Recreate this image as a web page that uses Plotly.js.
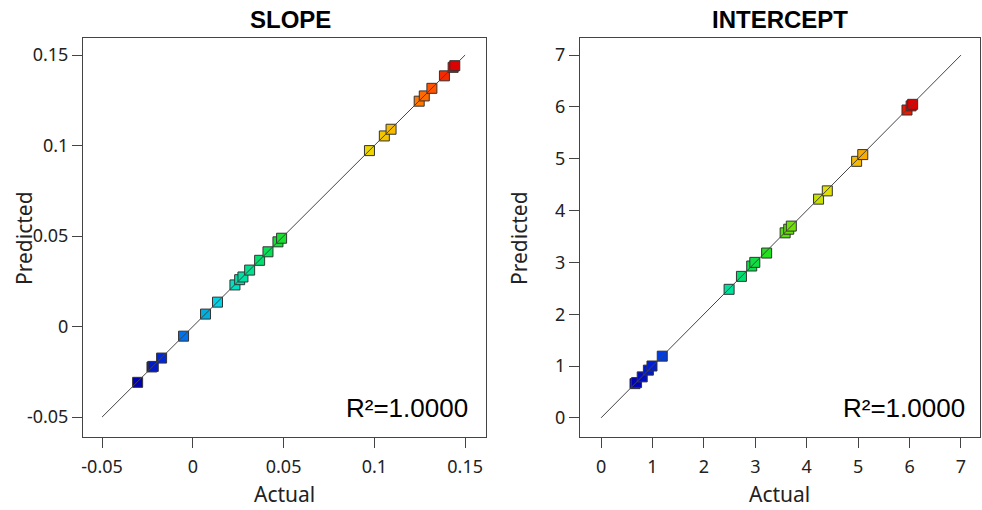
<!DOCTYPE html>
<html>
<head>
<meta charset="utf-8">
<script src="https://cdn.plot.ly/plotly-3.0.1.min.js"></script>
<style>html,body{margin:0;padding:0;background:#fff}#chart{width:982px;height:510px}</style>
</head>
<body>
<div id="chart"></div>
<script>
// ---- data ----
const slopeActual    = [-0.0304, -0.0225, -0.0218, -0.0172, -0.0051, 0.0070, 0.0136, 0.0232, 0.0258, 0.0276, 0.0313, 0.0368, 0.0414, 0.0469, 0.0489, 0.0973, 0.1055, 0.1092, 0.1247, 0.1275, 0.1317, 0.1386, 0.1434, 0.1443];
const slopePredicted = [-0.0308, -0.0223, -0.0220, -0.0174, -0.0053, 0.0069, 0.0135, 0.0230, 0.0259, 0.0274, 0.0312, 0.0366, 0.0413, 0.0468, 0.0488, 0.0972, 0.1053, 0.1090, 0.1245, 0.1274, 0.1316, 0.1385, 0.1432, 0.1441];
const interceptActual    = [0.66, 0.69, 0.80, 0.92, 0.99, 1.19, 2.49, 2.73, 2.93, 2.99, 3.22, 3.58, 3.65, 3.70, 4.23, 4.40, 4.97, 5.09, 5.95, 6.03, 6.06];
const interceptPredicted = [0.66, 0.68, 0.79, 0.92, 1.00, 1.19, 2.48, 2.73, 2.93, 3.00, 3.18, 3.57, 3.64, 3.70, 4.22, 4.38, 4.95, 5.08, 5.94, 6.02, 6.05];
const slopeLine = [-0.05, 0.15];
const interceptLine = [0, 7];
const slopeTicks = [-0.05, 0, 0.05, 0.1, 0.15];
const slopeTickText = ['-0.05', '0', '0.05', '0.1', '0.15'];
const interceptTicks = [0, 1, 2, 3, 4, 5, 6, 7];
const titles = ['SLOPE', 'INTERCEPT'];
const r2Text = 'R²=1.0000';

const cscale = [
  [0, '#0000b4'], [0.08, '#0028e0'], [0.15, '#0078f0'], [0.22, '#00b4dc'], [0.27, '#00e4e8'],
  [0.32, '#00e0b0'], [0.40, '#00e060'], [0.47, '#20e020'], [0.60, '#90e000'], [0.70, '#e8e000'],
  [0.79, '#f5c000'], [0.88, '#ff8000'], [0.95, '#ff4000'], [1, '#e00000']
];

function markers(x, y, xa, ya) {
  return {
    x: x, y: y, xaxis: xa, yaxis: ya, type: 'scatter', mode: 'markers', showlegend: false,
    marker: {
      symbol: 'square', size: 10, color: x, colorscale: cscale,
      cmin: Math.min(...x), cmax: Math.max(...x),
      line: {color: '#333', width: 1}
    },
    hoverinfo: 'x+y'
  };
}
function diag(v, xa, ya) {
  return {x: v, y: v, xaxis: xa, yaxis: ya, type: 'scatter', mode: 'lines', showlegend: false,
    line: {color: '#444', width: 1}, hoverinfo: 'skip'};
}

const data = [
  markers(slopeActual, slopePredicted, 'x', 'y'),
  diag(slopeLine, 'x', 'y'),
  markers(interceptActual, interceptPredicted, 'x2', 'y2'),
  diag(interceptLine, 'x2', 'y2')
];

const tickFont = {family: 'Noto Sans, Open Sans, sans-serif', size: 18, color: '#222'};
const axBase = {
  showline: true, mirror: true, linecolor: '#444', linewidth: 1,
  ticks: 'outside', ticklen: 10, tickcolor: '#444', tickwidth: 1,
  showgrid: false, zeroline: false, tickfont: tickFont, fixedrange: true
};
const yTop = 1 - 38/510, yBot = 1 - 437/510;
const axFont = {family: 'Noto Sans, Open Sans, sans-serif', size: 21, color: '#222'};
const titleFont = {family: 'Liberation Sans, Arial, sans-serif', size: 24, color: '#000'};
const r2Font = {family: 'Liberation Sans, Arial, sans-serif', size: 26, color: '#000'};

const layout = {
  width: 982, height: 510,
  margin: {l: 0, r: 0, t: 0, b: 0},
  paper_bgcolor: '#fff', plot_bgcolor: '#fff',
  xaxis: Object.assign({}, axBase, {domain: [83/982, 486/982], range: [-0.0605, 0.1615],
    tickvals: slopeTicks, ticktext: slopeTickText, anchor: 'y', ticklabelstandoff: 3}),
  yaxis: Object.assign({}, axBase, {domain: [yBot, yTop], range: [-0.061, 0.1594],
    tickvals: slopeTicks, ticktext: slopeTickText, anchor: 'x'}),
  xaxis2: Object.assign({}, axBase, {domain: [580/982, 980/982], range: [-0.41, 7.37],
    tickvals: interceptTicks, anchor: 'y2', ticklabelstandoff: 3}),
  yaxis2: Object.assign({}, axBase, {domain: [yBot, yTop], range: [-0.37, 7.33],
    tickvals: interceptTicks, anchor: 'x2'}),
  annotations: [
    {text: '<b>' + titles[0] + '</b>', xref: 'paper', yref: 'paper', x: 290/982, y: 1 - 20/510,
      showarrow: false, xanchor: 'center', yanchor: 'middle', font: titleFont},
    {text: '<b>' + titles[1] + '</b>', xref: 'paper', yref: 'paper', x: 780/982, y: 1 - 20/510,
      showarrow: false, xanchor: 'center', yanchor: 'middle', font: titleFont},
    {text: 'Actual', xref: 'paper', yref: 'paper', x: 284/982, y: 1 - 494/510,
      showarrow: false, xanchor: 'center', yanchor: 'middle', font: axFont},
    {text: 'Actual', xref: 'paper', yref: 'paper', x: 779/982, y: 1 - 494/510,
      showarrow: false, xanchor: 'center', yanchor: 'middle', font: axFont},
    {text: 'Predicted', xref: 'paper', yref: 'paper', x: 24/982, y: 1 - 238/510, textangle: -90,
      showarrow: false, xanchor: 'center', yanchor: 'middle', font: axFont},
    {text: 'Predicted', xref: 'paper', yref: 'paper', x: 519/982, y: 1 - 238/510, textangle: -90,
      showarrow: false, xanchor: 'center', yanchor: 'middle', font: axFont},
    {text: r2Text, xref: 'paper', yref: 'paper', x: 470/982, y: 1 - 408/510,
      showarrow: false, xanchor: 'right', yanchor: 'middle', font: r2Font},
    {text: r2Text, xref: 'paper', yref: 'paper', x: 967/982, y: 1 - 408/510,
      showarrow: false, xanchor: 'right', yanchor: 'middle', font: r2Font}
  ]
};

Plotly.newPlot('chart', data, layout, {displayModeBar: false, staticPlot: true});
</script>
</body>
</html>
